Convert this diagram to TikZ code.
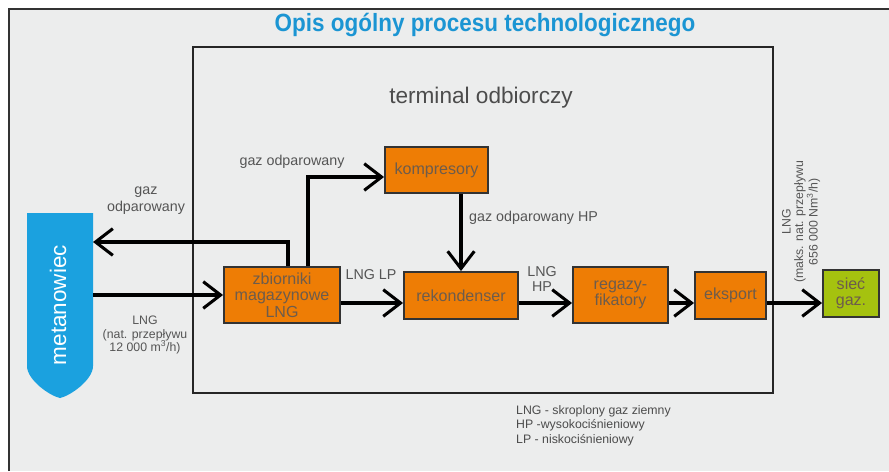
\documentclass[tikz,border=0pt]{standalone}
\usepackage{fontspec}
\setmainfont{Liberation Sans}
\newfontfamily\titlefam{Liberation Sans}[FakeStretch=0.9]
\usepackage{tikz}
\usetikzlibrary{arrows.meta,calc,positioning}
\usepackage{xcolor}

\definecolor{bggray}{HTML}{ECEDED}
\definecolor{titleblue}{HTML}{1B95D3}
\definecolor{shipblue}{HTML}{1BA1DF}
\definecolor{lngorange}{HTML}{EE7D05}
\definecolor{netgreen}{HTML}{A5C20F}
\definecolor{boxline}{HTML}{333333}
\definecolor{boxtext}{HTML}{6D5C4C}
\definecolor{lblgray}{HTML}{555555}

\newcommand\titlefont{\titlefam\bfseries\fontsize{21.3}{24}\selectfont}
\newcommand\termfont{\fontsize{19.3}{22}\selectfont}
\newcommand\boxfont{\fontsize{13.7}{14}\selectfont}
\newcommand\lblfont{\fontsize{12.2}{14.5}\selectfont}
\newcommand\smallfont{\fontsize{10.5}{11.5}\selectfont}
\newcommand\legfont{\fontsize{10.5}{12.4}\selectfont}

\begin{document}
\begin{tikzpicture}[x=0.03cm, y=-0.03cm,
  box/.style={draw=boxline, line width=1.6pt, fill=lngorange, text=boxtext,
    align=center, inner sep=1pt, font=\boxfont},
  flow/.style={line width=2.6pt, -{Straight Barb[length=5.2mm,width=8mm]}},
  lbl/.style={text=lblgray, align=center, inner sep=0pt, font=\lblfont},
  smalllbl/.style={lbl, font=\smallfont}]

  % Page and frame
  \useasboundingbox (0,0) rectangle (889,471);
  \fill[white] (0,0) rectangle (889,471);
  \fill[bggray] (9,9) rectangle (889,471);
  \draw[boxline, line width=1.2pt] (9,471) -- (9,9) -- (889,9);

  \node[text=titleblue, font=\titlefont, inner sep=0pt] (title) at (485,25)
    {Opis ogólny procesu technologicznego};

  % Terminal boundary
  \draw[black!85, line width=1.8pt] (193,47) rectangle (773,393);
  \node[text=black!70, font=\termfont, inner sep=0pt] (term) at (481,98)
    {terminal odbiorczy};

  % Ship (metanowiec)
  \fill[shipblue] (27,213) -- (93,213) -- (93,366)
    .. controls (93,380) and (70,396) .. (60,398)
    .. controls (50,396) and (27,380) .. (27,366) -- cycle;
  \node[text=white, font=\fontsize{19.2}{20}\selectfont, rotate=90, inner sep=0pt]
    (met) at (58,305) {metanowiec};
  \coordinate (metR) at (93,300);

  % Process units
  \node[box, minimum width=3.48cm, minimum height=1.68cm] (zb) at (282,295)
    {zbiorniki\\magazynowe\\LNG};
  \node[box, minimum width=3.09cm, minimum height=1.38cm] (komp) at (436.5,170)
    {kompresory};
  \node[box, minimum width=3.42cm, minimum height=1.41cm] (rek) at (461,295.5)
    {rekondenser};
  \node[box, minimum width=2.85cm, minimum height=1.68cm] (reg) at (620.5,295)
    {regazy-\\fikatory};
  \node[box, minimum width=2.13cm, minimum height=1.41cm] (eks) at (730.5,295.5)
    {eksport};
  \node[box, fill=netgreen, minimum width=1.68cm, minimum height=1.41cm] (siec) at (851,293.5)
    {sieć\\gaz.};

  % Helper rows for the connectors
  \coordinate (row) at (0,303);
  \coordinate (ret) at (288,242);
  \coordinate (bog) at (308,177);

  % Connectors
  \draw[flow] (metR |- zb.west) -- (zb.west);
  \draw[flow] (zb.north -| ret) |- (metR |- ret);
  \draw[flow] (zb.north -| bog) |- (komp.west |- bog);
  \draw[flow] (rek.north |- komp.south) -- (rek.north);
  \draw[flow] (zb.east |- row) -- (rek.west |- row);
  \draw[flow] (rek.east |- row) -- (reg.west |- row);
  \draw[flow] (reg.east |- row) -- (eks.west |- row);
  \draw[flow] (eks.east |- row) -- (siec.west |- row);

  % Labels
  \node[lbl] (lgas) at (146,201) {gaz\\odparowany};
  \node[smalllbl] (llng) at (145,335) {LNG\\(nat. przepływu\\12 000 m\textsuperscript{3}/h)};
  \node[lbl] (lbog) at (292,162) {gaz odparowany};
  \node[lbl, anchor=west] (lhp) at (469,218) {gaz odparowany HP};
  \node[lbl] (llp) at (371,275) {LNG LP};
  \node[lbl, font=\fontsize{12.2}{13.5}\selectfont] (lnghp) at (542,279) {LNG\\HP};
  \node[smalllbl, rotate=90, font=\fontsize{10.5}{10.8}\selectfont] (lexp) at (801,222)
    {LNG\\(maks. nat. przepływu\\656 000 Nm\textsuperscript{3}/h)};

  % Legend
  \node[text=black!70, font=\legfont, align=left, anchor=north west, inner sep=0pt]
    (leg) at (516,405)
    {LNG - skroplony gaz ziemny\\HP -wysokociśnieniowy\\LP - niskociśnieniowy};
\end{tikzpicture}
\end{document}
